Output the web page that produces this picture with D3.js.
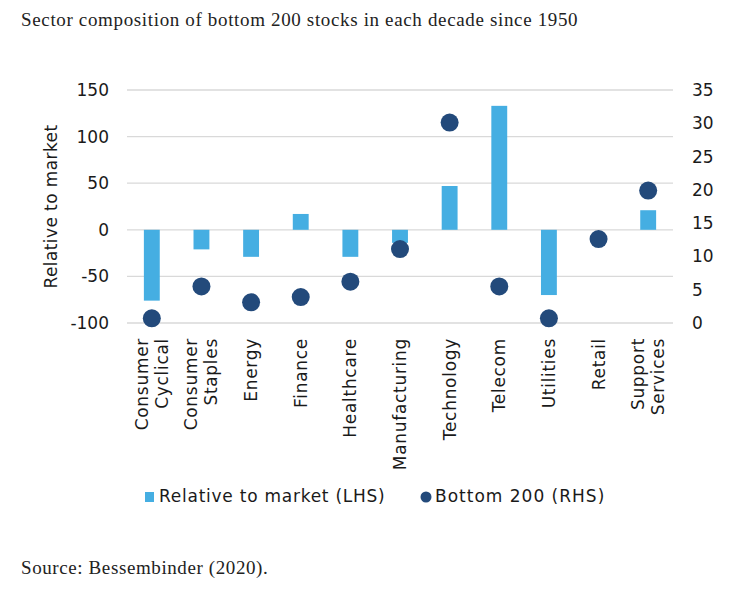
<!DOCTYPE html>
<html>
<head>
<meta charset="utf-8">
<script src="https://cdn.jsdelivr.net/npm/d3@7"></script>
<style>
  body { margin: 0; background: #fff; }
  text { fill: #1a1a1a; }
</style>
</head>
<body>
<div id="chart"></div>
<script>
// Chart data
var sectors = ["Consumer Cyclical", "Consumer Staples", "Energy", "Finance", "Healthcare",
    "Manufacturing", "Technology", "Telecom", "Utilities", "Retail", "Support Services"];
var relativeToMarket = [-76, -21, -29, 17, -29, -14, 47, 133, -70, 0, 21];
var bottom200 = [0.7, 5.5, 3.1, 3.9, 6.2, 11.1, 30.1, 5.5, 0.7, 12.6, 19.9];
var leftTicks = [-100, -50, 0, 50, 100, 150];
var rightTicks = [0, 5, 10, 15, 20, 25, 30, 35];

// Set graph size
var svgWidth = 735;
var svgHeight = 591;

var margin = { top: 90, right: 62, bottom: 268, left: 127 };
var width = svgWidth - margin.left - margin.right;
var height = svgHeight - margin.top - margin.bottom;

var svg = d3.select("#chart")
    .append("svg")
    .attr("width", svgWidth)
    .attr("height", svgHeight);

// Title and source
svg.append("text")
    .attr("x", 21)
    .attr("y", 26)
    .style("font-family", "'Liberation Serif', serif")
    .style("font-size", "19px")
    .style("letter-spacing", "0.65px")
    .style("fill", "#222")
    .text("Sector composition of bottom 200 stocks in each decade since 1950");

svg.append("text")
    .attr("x", 21)
    .attr("y", 574)
    .style("font-family", "'Liberation Serif', serif")
    .style("font-size", "19px")
    .style("letter-spacing", "0.6px")
    .style("fill", "#222")
    .text("Source: Bessembinder (2020).");

var chartGroup = svg.append("g")
    .attr("transform", `translate(${margin.left}, ${margin.top})`);

// Scales
var xBandScale = d3.scaleBand()
    .domain(sectors)
    .range([0, width])
    .paddingInner(0.68)
    .paddingOuter(0.34);

var yLeftScale = d3.scaleLinear()
    .domain([-100, 150])
    .range([height, 0]);

var yRightScale = d3.scaleLinear()
    .domain([0, 35])
    .range([height, 0]);

// Gridlines
chartGroup.append("g")
    .selectAll("line")
    .data(leftTicks)
    .enter()
    .append("line")
    .attr("x1", 0)
    .attr("x2", width)
    .attr("y1", d => yLeftScale(d))
    .attr("y2", d => yLeftScale(d))
    .attr("stroke", "#d9d9d9")
    .attr("stroke-width", 1.3);

// Axes (plain hyphen for negatives, like the original)
var leftAxis = d3.axisLeft(yLeftScale).tickValues(leftTicks).tickSize(0).tickPadding(18)
    .tickFormat(d => String(d));
var rightAxis = d3.axisRight(yRightScale).tickValues(rightTicks).tickSize(0).tickPadding(19)
    .tickFormat(d => String(d));

var leftG = chartGroup.append("g").call(leftAxis);
var rightG = chartGroup.append("g")
    .attr("transform", `translate(${width}, 0)`)
    .call(rightAxis);

[leftG, rightG].forEach(function(g) {
    g.select(".domain").remove();
    g.selectAll("text")
        .style("font-family", "'DejaVu Sans', sans-serif")
        .style("font-size", "17px")
        .attr("fill", "#1a1a1a");
});

// Bars
chartGroup.selectAll(".bar")
    .data(sectors)
    .enter()
    .append("rect")
    .attr("class", "bar")
    .attr("x", d => xBandScale(d))
    .attr("width", xBandScale.bandwidth())
    .attr("y", (d, i) => yLeftScale(Math.max(0, relativeToMarket[i])))
    .attr("height", (d, i) => Math.abs(yLeftScale(relativeToMarket[i]) - yLeftScale(0)))
    .attr("fill", "#45aee2");

// Dots
chartGroup.selectAll(".dot")
    .data(sectors)
    .enter()
    .append("circle")
    .attr("class", "dot")
    .attr("cx", d => xBandScale(d) + xBandScale.bandwidth() / 2)
    .attr("cy", (d, i) => yRightScale(bottom200[i]))
    .attr("r", 9)
    .attr("fill", "#234a7b");

// Category labels (rotated, wrapped on space)
var labelGroup = chartGroup.append("g");
sectors.forEach(function(s) {
    var words = s.split(" ");
    var cx = xBandScale(s) + xBandScale.bandwidth() / 2;
    var lineGap = 20;
    words.forEach(function(w, j) {
        var offset = (j - (words.length - 1) / 2) * lineGap;
        labelGroup.append("text")
            .attr("transform", `translate(${cx + offset + 6}, ${height + 15}) rotate(-90)`)
            .attr("text-anchor", "end")
            .style("font-family", "'DejaVu Sans', sans-serif")
            .style("font-size", "17px")
            .style("letter-spacing", "0.7px")
            .text(w);
    });
});

// Left axis title
chartGroup.append("text")
    .attr("transform", `translate(${-margin.left + 57}, ${yLeftScale(25)}) rotate(-90)`)
    .attr("text-anchor", "middle")
    .style("font-family", "'DejaVu Sans', sans-serif")
    .style("font-size", "17px")
    .style("letter-spacing", "0.4px")
    .text("Relative to market");

// Legend
var legend = svg.append("g");
legend.append("rect")
    .attr("x", 145).attr("y", 492)
    .attr("width", 9).attr("height", 10)
    .attr("fill", "#45aee2");
legend.append("text")
    .attr("x", 159).attr("y", 502)
    .style("font-family", "'DejaVu Sans', sans-serif")
    .style("font-size", "17px")
    .style("letter-spacing", "0.75px")
    .text("Relative to market (LHS)");
legend.append("circle")
    .attr("cx", 426).attr("cy", 497)
    .attr("r", 5.5)
    .attr("fill", "#234a7b");
legend.append("text")
    .attr("x", 435).attr("y", 502)
    .style("font-family", "'DejaVu Sans', sans-serif")
    .style("font-size", "17px")
    .style("letter-spacing", "1px")
    .text("Bottom 200 (RHS)");
</script>
</body>
</html>
